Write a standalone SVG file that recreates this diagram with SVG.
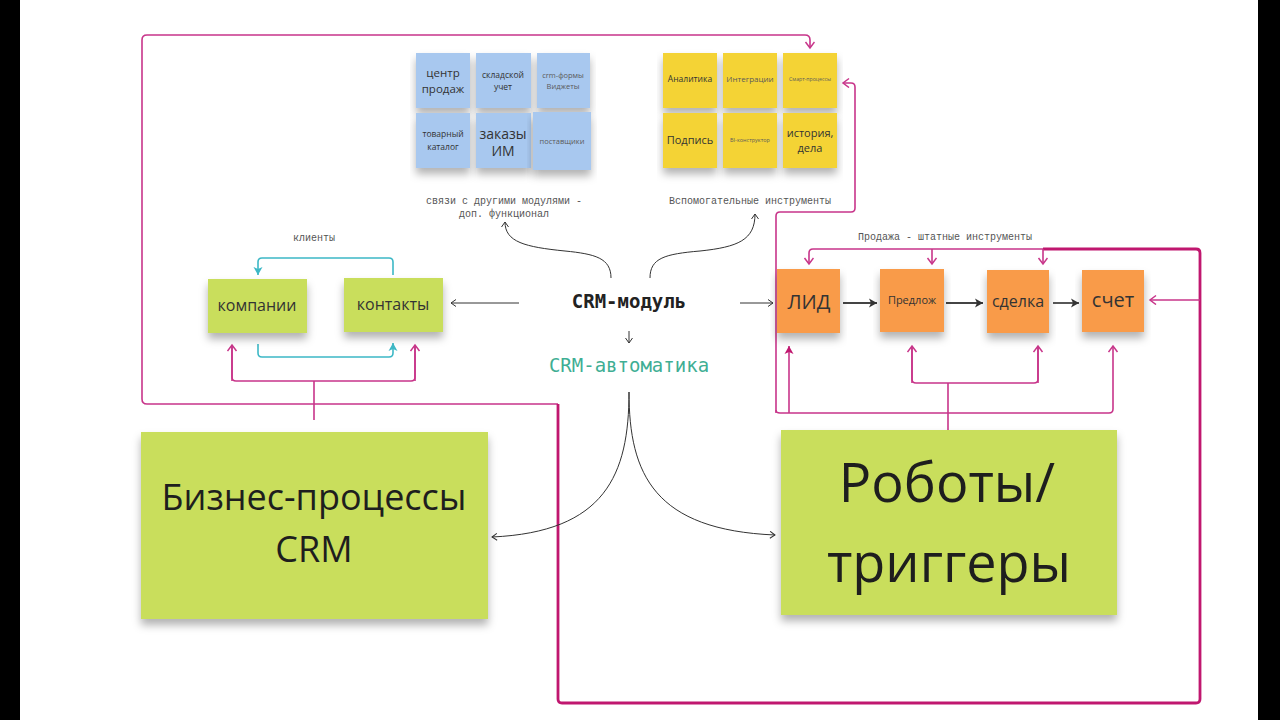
<svg xmlns="http://www.w3.org/2000/svg" width="1280" height="720" viewBox="0 0 1280 720">
<defs>
<filter id="sh" x="-10%" y="-10%" width="120%" height="140%">
<feDropShadow dx="0" dy="6" stdDeviation="4" flood-color="#000" flood-opacity="0.3"/>
</filter>
<marker id="ab" markerWidth="10" markerHeight="10" refX="6" refY="4" orient="auto" markerUnits="userSpaceOnUse">
<path d="M1,0.5 L6,4 L1,7.5" fill="none" stroke="#333" stroke-width="1"/>
</marker>
<marker id="am" markerWidth="12" markerHeight="12" refX="7" refY="5" orient="auto" markerUnits="userSpaceOnUse">
<path d="M1,0.5 L7,5 L1,9.5" fill="none" stroke="#C8358A" stroke-width="1.5"/>
</marker>
<marker id="amf" markerWidth="12" markerHeight="12" refX="8" refY="5" orient="auto" markerUnits="userSpaceOnUse">
<path d="M0,0.5 L8,5 L0,9.5 L2,5 Z" fill="#C0176F"/>
</marker>
<marker id="ac" markerWidth="12" markerHeight="12" refX="8" refY="5" orient="auto" markerUnits="userSpaceOnUse">
<path d="M0,0.5 L8,5 L0,9.5 L2,5 Z" fill="#3DB8C6"/>
</marker>
<marker id="ak" markerWidth="12" markerHeight="12" refX="8" refY="5" orient="auto" markerUnits="userSpaceOnUse">
<path d="M0,0.5 L8,5 L0,9.5 L2,5 Z" fill="#333"/>
</marker>
</defs>
<style>
.blue{fill:#A8C8EF}
.yel{fill:#F4D334}
.org{fill:#F99B48}
.grn{fill:#C9DE5C}
.st{font-family:"Open Sans","Noto Sans",sans-serif;fill:#333;text-anchor:middle}
.lt{fill:#5A5A5A}
.dk{fill:#1E1E1E}
.mono{font-family:"Liberation Mono","DejaVu Sans Mono",monospace;fill:#555;text-anchor:middle;font-size:10px}
.blk{fill:none;stroke:#333;stroke-width:1}
.mg{fill:none;stroke:#C8358A;stroke-width:1.6}
.mgt{fill:none;stroke:#C0176F;stroke-width:2.8}
.cy{fill:none;stroke:#3DB8C6;stroke-width:1.6}
.ka{fill:none;stroke:#444;stroke-width:1.8}
</style>
<rect x="0" y="0" width="1280" height="720" fill="#FFFFFF"/>
<rect x="0" y="0" width="20" height="720" fill="#000"/>
<rect x="1258" y="0" width="22" height="720" fill="#000"/>

<g id="connectors">
<path class="mg" d="M558,404 L147,404 Q142,404 142,399 L142,40 Q142,35 147,35 L805,35 Q810,35 810,40 L810,48" marker-end="url(#am)"/>
<path class="mgt" d="M558,404 L558,699 Q558,703 562,703 L1196,703 Q1200,703 1200,699 L1200,253 Q1200,249 1196,249 L1043,249"/>
<path class="mg" d="M1043,249 L813,249 Q809,249 809,253 L809,264" marker-end="url(#am)"/>
<path class="mg" d="M932,249 L932,264" marker-end="url(#am)"/>
<path class="mg" d="M1043,249 L1043,264" marker-end="url(#am)"/>
<path class="mg" d="M1200,300 L1150,300" marker-end="url(#am)"/>
<path class="mg" d="M776,413 L776,216 Q776,212 780,212 L851,212 Q855,212 855,208 L855,87 Q855,83 851,83 L843,83" marker-end="url(#am)"/>
<path class="mg" d="M776,410 Q776,413 780,413 L1109,413 Q1113,413 1113,409 L1113,346" marker-end="url(#am)"/>
<path class="mg" d="M789,413 L789,346" marker-end="url(#amf)"/>
<path class="mg" d="M948,430 L948,383 M912,346 L912,379 Q912,383 916,383 L1034,383 Q1038,383 1038,379 L1038,346"/>
<path class="mg" d="M912,383 L912,346" marker-end="url(#am)"/>
<path class="mg" d="M1038,383 L1038,346" marker-end="url(#am)"/>
<path class="mg" d="M314,420 L314,381 M232,346 L232,377 Q232,381 236,381 L411,381 Q415,381 415,377 L415,346"/>
<path class="mg" d="M232,381 L232,345" marker-end="url(#am)"/>
<path class="mg" d="M415,381 L415,345" marker-end="url(#am)"/>
<path class="cy" d="M393,275 L393,262 Q393,258 389,258 L262,258 Q258,258 258,262 L258,275" marker-end="url(#ac)"/>
<path class="cy" d="M258,344 L258,353 Q258,357 262,357 L389,357 Q393,357 393,353 L393,343" marker-end="url(#ac)"/>
<path class="blk" d="M519,303 L451,303" marker-end="url(#ab)"/>
<path class="blk" d="M740,303 L773,303" marker-end="url(#ab)"/>
<path class="blk" d="M629,331 L629,343" marker-end="url(#ab)"/>
<path class="blk" d="M611,278 C611,258 595,254 565,251 C525,247 505,242 505,222" marker-end="url(#ab)"/>
<path class="blk" d="M650,278 C650,258 665,254 700,251 C738,247 755,240 755,214" marker-end="url(#ab)"/>
<path class="blk" d="M629,392 C629,475 605,532 492,537" marker-end="url(#ab)"/>
<path class="blk" d="M629,392 C629,475 655,530 775,535" marker-end="url(#ab)"/>
<path class="ka" d="M843,303 L877,303" marker-end="url(#ak)"/>
<path class="ka" d="M946,303 L983,303" marker-end="url(#ak)"/>
<path class="ka" d="M1053,303 L1079,303" marker-end="url(#ak)"/>
</g>

<g id="labels">
<text class="mono" x="504" y="204">связи с другими модулями -</text>
<text class="mono" x="504" y="217">доп. функционал</text>
<text class="mono" x="750" y="204">Вспомогательные инструменты</text>
<text class="mono" x="945" y="240">Продажа - штатные инструменты</text>
<text class="mono" x="314" y="241" font-size="9">клиенты</text>
</g>

<g id="crm-module"><text x="629" y="308" font-family="DejaVu Sans Mono, Liberation Mono, monospace" font-weight="bold" font-size="19" fill="#222" text-anchor="middle">CRM-модуль</text></g>
<g id="crm-auto"><text x="629" y="372" font-family="DejaVu Sans Mono, Liberation Mono, monospace" font-size="19" fill="#3FAE94" text-anchor="middle">CRM-автоматика</text></g>

<g id="n-centr"><rect class="blue" x="416" y="53" width="54" height="55" filter="url(#sh)"/><text class="st" x="443" y="77" font-size="11.5">центр</text><text class="st" x="443" y="93" font-size="11.5">продаж</text></g>
<g id="n-sklad"><rect class="blue" x="476" y="53" width="55" height="55" filter="url(#sh)"/><text class="st" x="503" y="78" font-size="8.5">складской</text><text class="st" x="503" y="90" font-size="8.5">учет</text></g>
<g id="n-crmforms"><rect class="blue" x="537" y="53" width="53" height="55" filter="url(#sh)"/><text class="st lt" x="563" y="78" font-size="7.5">crm-формы</text><text class="st lt" x="563" y="89" font-size="7.5">Виджеты</text></g>
<g id="n-tovar"><rect class="blue" x="416" y="113" width="54" height="55" filter="url(#sh)"/><text class="st" x="443" y="137" font-size="8.5">товарный</text><text class="st" x="443" y="150" font-size="8.5">каталог</text></g>
<g id="n-zakazy"><rect class="blue" x="476" y="113" width="55" height="55" filter="url(#sh)"/><text class="st" x="503" y="139" font-size="14">заказы</text><text class="st" x="503" y="156" font-size="14">ИМ</text></g>
<g id="n-postav"><rect class="blue" x="533" y="112" width="58" height="58" filter="url(#sh)"/><text class="st lt" x="562" y="144" font-size="7.5">поставщики</text></g>

<g id="n-analit"><rect class="yel" x="663" y="53" width="54" height="55" filter="url(#sh)"/><text class="st" x="690" y="82" font-size="8.5">Аналитика</text></g>
<g id="n-integr"><rect class="yel" x="723" y="53" width="54" height="55" filter="url(#sh)"/><text class="st lt" x="750" y="82" font-size="8">Интеграции</text></g>
<g id="n-smart"><rect class="yel" x="783" y="53" width="54" height="55" filter="url(#sh)"/><text class="st lt" x="810" y="81" font-size="5.2">Смарт-процессы</text></g>
<g id="n-podpis"><rect class="yel" x="663" y="113" width="54" height="55" filter="url(#sh)"/><text class="st" x="690" y="144" font-size="11">Подпись</text></g>
<g id="n-bi"><rect class="yel" x="723" y="113" width="54" height="55" filter="url(#sh)"/><text class="st lt" x="750" y="142" font-size="5.5">BI-конструктор</text></g>
<g id="n-istoria"><rect class="yel" x="783" y="113" width="54" height="55" filter="url(#sh)"/><text class="st" x="810" y="137" font-size="11">история,</text><text class="st" x="810" y="152" font-size="11">дела</text></g>

<g id="n-lid"><rect class="org" x="777" y="269" width="63" height="64" filter="url(#sh)"/><text class="st" x="809" y="309" font-size="20">ЛИД</text></g>
<g id="n-predl"><rect class="org" x="880" y="269" width="64" height="63" filter="url(#sh)"/><text class="st" x="912" y="304" font-size="11">Предлож</text></g>
<g id="n-sdelka"><rect class="org" x="987" y="270" width="62" height="63" filter="url(#sh)"/><text class="st" x="1018" y="307" font-size="16">сделка</text></g>
<g id="n-schet"><rect class="org" x="1082" y="270" width="62" height="62" filter="url(#sh)"/><text class="st" x="1113" y="307" font-size="20">счет</text></g>

<g id="n-komp"><rect class="grn" x="208" y="279" width="99" height="54" filter="url(#sh)"/><text class="st" x="257" y="311" font-size="16">компании</text></g>
<g id="n-kont"><rect class="grn" x="344" y="278" width="99" height="54" filter="url(#sh)"/><text class="st" x="393" y="310" font-size="16">контакты</text></g>

<g id="n-bp"><rect class="grn" x="141" y="432" width="347" height="187" filter="url(#sh)"/><text class="st dk" x="314" y="510" font-size="36">Бизнес-процессы</text><text class="st dk" x="314" y="562" font-size="36">CRM</text></g>
<g id="n-robots"><rect class="grn" x="781" y="430" width="336" height="185" filter="url(#sh)"/><text class="st dk" x="947" y="502" font-size="54">Роботы/</text><text class="st dk" x="949" y="582" font-size="54">триггеры</text></g>
</svg>
